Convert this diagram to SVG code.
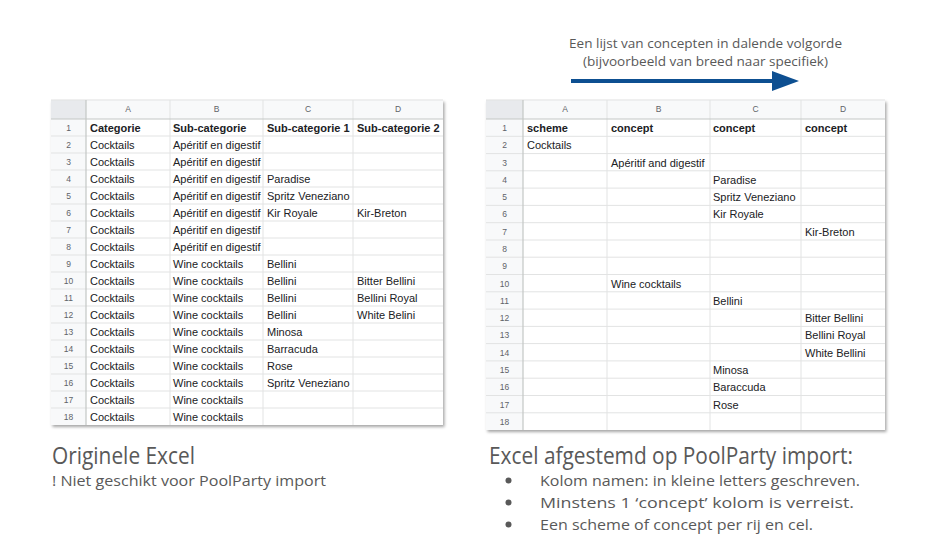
<svg xmlns="http://www.w3.org/2000/svg" width="940" height="556" viewBox="0 0 940 556">
<defs>
<style>
.cell{font-family:"Liberation Sans",Arial,sans-serif;font-size:11px;fill:#202124}
.b{font-weight:bold}
.hdr{font-family:"Liberation Sans",Arial,sans-serif;font-size:8.5px;fill:#5f6368;text-anchor:middle}
.grid{stroke:#e2e3e3;stroke-width:1;fill:none}
.frz{stroke:#c4c7c5;stroke-width:1.2;fill:none}
.cap{font-family:"Open Sans","Noto Sans",sans-serif;fill:#595959}
</style>
<filter id="sh" x="-5%" y="-5%" width="110%" height="110%">
<feDropShadow dx="1.5" dy="2" stdDeviation="1.5" flood-color="#000" flood-opacity="0.35"/>
</filter>
<marker id="ah" markerUnits="userSpaceOnUse" markerWidth="28" markerHeight="22" refX="1" refY="10" orient="auto">
<path d="M0,0 L27,10 L0,20 z" fill="#0d4f91"/>
</marker>
</defs>
<rect width="940" height="556" fill="#fff"/>

<g id="table-original">
<rect x="51" y="100" width="392" height="325" fill="#fff" filter="url(#sh)"/>
<rect x="51" y="100" width="392" height="19" fill="#f8f9fa"/>
<rect x="51" y="100" width="35" height="325" fill="#f8f9fa"/>
<rect x="51" y="100" width="35" height="19" fill="#e8eaed"/>
<path class="grid" d="M51 136H443M51 153H443M51 170H443M51 187H443M51 204H443M51 221H443M51 238H443M51 255H443M51 272H443M51 289H443M51 306H443M51 323H443M51 340H443M51 357H443M51 374H443M51 391H443M51 408H443M170 100V425M263 100V425M353 100V425M51 100H443"/>
<path class="frz" d="M51 119H443M86 100V425"/>
<g class="hdr">
<text x="128" y="112">A</text><text x="216.5" y="112">B</text><text x="308" y="112">C</text><text x="398" y="112">D</text>
<text x="68.5" y="131">1</text><text x="68.5" y="148">2</text><text x="68.5" y="165">3</text><text x="68.5" y="182">4</text><text x="68.5" y="199">5</text><text x="68.5" y="216">6</text><text x="68.5" y="233">7</text><text x="68.5" y="250">8</text><text x="68.5" y="267">9</text><text x="68.5" y="284">10</text><text x="68.5" y="301">11</text><text x="68.5" y="318">12</text><text x="68.5" y="335">13</text><text x="68.5" y="352">14</text><text x="68.5" y="369">15</text><text x="68.5" y="386">16</text><text x="68.5" y="403">17</text><text x="68.5" y="420">18</text>
</g>
<g class="cell">
<text class="b" x="90" y="132">Categorie</text><text class="b" x="173" y="132">Sub-categorie</text><text class="b" x="267" y="132">Sub-categorie 1</text><text class="b" x="357" y="132">Sub-categorie 2</text>
<text x="90" y="149">Cocktails</text><text x="173" y="149">Apéritif en digestif</text>
<text x="90" y="166">Cocktails</text><text x="173" y="166">Apéritif en digestif</text>
<text x="90" y="183">Cocktails</text><text x="173" y="183">Apéritif en digestif</text><text x="267" y="183">Paradise</text>
<text x="90" y="200">Cocktails</text><text x="173" y="200">Apéritif en digestif</text><text x="267" y="200">Spritz Veneziano</text>
<text x="90" y="217">Cocktails</text><text x="173" y="217">Apéritif en digestif</text><text x="267" y="217">Kir Royale</text><text x="357" y="217">Kir-Breton</text>
<text x="90" y="234">Cocktails</text><text x="173" y="234">Apéritif en digestif</text>
<text x="90" y="251">Cocktails</text><text x="173" y="251">Apéritif en digestif</text>
<text x="90" y="268">Cocktails</text><text x="173" y="268">Wine cocktails</text><text x="267" y="268">Bellini</text>
<text x="90" y="285">Cocktails</text><text x="173" y="285">Wine cocktails</text><text x="267" y="285">Bellini</text><text x="357" y="285">Bitter Bellini</text>
<text x="90" y="302">Cocktails</text><text x="173" y="302">Wine cocktails</text><text x="267" y="302">Bellini</text><text x="357" y="302">Bellini Royal</text>
<text x="90" y="319">Cocktails</text><text x="173" y="319">Wine cocktails</text><text x="267" y="319">Bellini</text><text x="357" y="319">White Belini</text>
<text x="90" y="336">Cocktails</text><text x="173" y="336">Wine cocktails</text><text x="267" y="336">Minosa</text>
<text x="90" y="353">Cocktails</text><text x="173" y="353">Wine cocktails</text><text x="267" y="353">Barracuda</text>
<text x="90" y="370">Cocktails</text><text x="173" y="370">Wine cocktails</text><text x="267" y="370">Rose</text>
<text x="90" y="387">Cocktails</text><text x="173" y="387">Wine cocktails</text><text x="267" y="387">Spritz Veneziano</text>
<text x="90" y="404">Cocktails</text><text x="173" y="404">Wine cocktails</text>
<text x="90" y="421">Cocktails</text><text x="173" y="421">Wine cocktails</text>
</g>
</g>

<g id="table-poolparty">
<rect x="486" y="100" width="399" height="330" fill="#fff" filter="url(#sh)"/>
<rect x="486" y="100" width="399" height="19" fill="#f8f9fa"/>
<rect x="486" y="100" width="37" height="330" fill="#f8f9fa"/>
<rect x="486" y="100" width="37" height="19" fill="#e8eaed"/>
<path class="grid" d="M486 136.3H885M486 153.6H885M486 170.8H885M486 188.1H885M486 205.4H885M486 222.7H885M486 240H885M486 257.2H885M486 274.5H885M486 291.8H885M486 309.1H885M486 326.4H885M486 343.6H885M486 360.9H885M486 378.2H885M486 395.5H885M486 412.8H885M607 100V430M710 100V430M801 100V430M486 100H885"/>
<path class="frz" d="M486 119H885M523 100V430"/>
<g class="hdr">
<text x="565" y="112">A</text><text x="658.5" y="112">B</text><text x="755.5" y="112">C</text><text x="843" y="112">D</text>
<text x="504.5" y="131">1</text><text x="504.5" y="148.3">2</text><text x="504.5" y="165.6">3</text><text x="504.5" y="182.8">4</text><text x="504.5" y="200.1">5</text><text x="504.5" y="217.4">6</text><text x="504.5" y="234.7">7</text><text x="504.5" y="252">8</text><text x="504.5" y="269.2">9</text><text x="504.5" y="286.5">10</text><text x="504.5" y="303.8">11</text><text x="504.5" y="321.1">12</text><text x="504.5" y="338.4">13</text><text x="504.5" y="355.6">14</text><text x="504.5" y="372.9">15</text><text x="504.5" y="390.2">16</text><text x="504.5" y="407.5">17</text><text x="504.5" y="424.8">18</text>
</g>
<g class="cell">
<text class="b" x="527" y="132">scheme</text><text class="b" x="611" y="132">concept</text><text class="b" x="713" y="132">concept</text><text class="b" x="805" y="132">concept</text>
<text x="527" y="149.3">Cocktails</text>
<text x="611" y="166.6">Apéritif and digestif</text>
<text x="713" y="183.8">Paradise</text>
<text x="713" y="201.1">Spritz Veneziano</text>
<text x="713" y="218.4">Kir Royale</text>
<text x="805" y="235.7">Kir-Breton</text>
<text x="611" y="287.5">Wine cocktails</text>
<text x="713" y="304.8">Bellini</text>
<text x="805" y="322.1">Bitter Bellini</text>
<text x="805" y="339.4">Bellini Royal</text>
<text x="805" y="356.6">White Bellini</text>
<text x="713" y="373.9">Minosa</text>
<text x="713" y="391.2">Baraccuda</text>
<text x="713" y="408.5">Rose</text>
</g>
</g>

<g id="label-order" class="cap" font-size="13.5" text-anchor="middle">
<text x="705.5" y="47.5" textLength="273" lengthAdjust="spacingAndGlyphs">Een lijst van concepten in dalende volgorde</text>
<text x="705.5" y="66" textLength="245" lengthAdjust="spacingAndGlyphs">(bijvoorbeeld van breed naar specifiek)</text>
</g>

<g id="connectors">
<line x1="571" y1="81" x2="773" y2="81" stroke="#0d4f91" stroke-width="4" marker-end="url(#ah)"/>
</g>

<g id="caption-original" class="cap">
<text x="52" y="464" font-size="23" textLength="143" lengthAdjust="spacingAndGlyphs">Originele Excel</text>
<text x="52" y="486" font-size="15" textLength="274" lengthAdjust="spacingAndGlyphs">! Niet geschikt voor PoolParty import</text>
</g>

<g id="caption-poolparty" class="cap">
<text x="489" y="464" font-size="23" textLength="364" lengthAdjust="spacingAndGlyphs">Excel afgestemd op PoolParty import:</text>
<circle cx="508.5" cy="480.5" r="3" fill="#595959"/>
<circle cx="508.5" cy="502.5" r="3" fill="#595959"/>
<circle cx="508.5" cy="524.5" r="3" fill="#595959"/>
<text x="540" y="486" font-size="15" textLength="320" lengthAdjust="spacingAndGlyphs">Kolom namen: in kleine letters geschreven.</text>
<text x="540" y="508" font-size="15" textLength="314" lengthAdjust="spacingAndGlyphs">Minstens 1 ‘concept’ kolom is verreist.</text>
<text x="540" y="530" font-size="15" textLength="273" lengthAdjust="spacingAndGlyphs">Een scheme of concept per rij en cel.</text>
</g>
</svg>
